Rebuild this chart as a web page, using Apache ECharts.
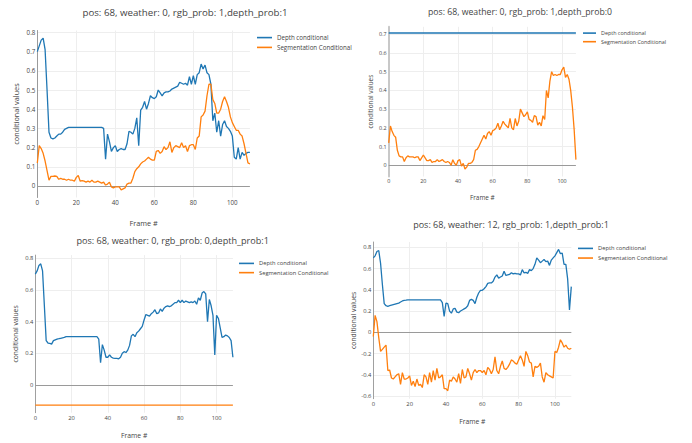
<!DOCTYPE html>
<html><head><meta charset="utf-8">
<script src="https://cdn.jsdelivr.net/npm/echarts@6/dist/echarts.min.js"></script>
<style>html,body{margin:0;padding:0;background:#fff}#c{width:692px;height:443px}</style>
</head><body><div id="c"></div>
<script>
// ---------- data ----------
const seriesNames = ['Depth conditional', 'Segmentation Conditional'];
const titles = [
  'pos: 68, weather: 0, rgb_prob: 1,depth_prob:1',
  'pos: 68, weather: 0, rgb_prob: 1,depth_prob:0',
  'pos: 68, weather: 0, rgb_prob: 0,depth_prob:1',
  'pos: 68, weather: 12, rgb_prob: 1,depth_prob:1'
];
const xTitle = 'Frame #';
const yTitle = 'conditional values';

// panel 1: weather 0, rgb 1, depth 1
const depth1 = [0.70,0.73,0.76,0.77,0.71,0.50,0.28,0.25,0.245,0.25,
  0.26,0.27,0.27,0.28,0.295,0.30,0.305,0.305,0.305,0.305,
  0.305,0.305,0.305,0.305,0.305,0.305,0.305,0.305,0.305,0.305,
  0.305,0.305,0.305,0.305,0.30,0.14,0.27,0.23,0.18,0.20,
  0.21,0.18,0.19,0.195,0.19,0.19,0.22,0.285,0.28,0.27,
  0.30,0.355,0.21,0.395,0.41,0.44,0.40,0.43,0.47,0.46,
  0.455,0.465,0.50,0.485,0.47,0.485,0.49,0.49,0.495,0.505,
  0.51,0.515,0.52,0.54,0.535,0.53,0.535,0.525,0.57,0.53,
  0.575,0.53,0.58,0.59,0.635,0.61,0.63,0.59,0.58,0.53,
  0.34,0.38,0.28,0.34,0.26,0.32,0.34,0.31,0.30,0.285,
  0.26,0.15,0.14,0.20,0.14,0.175,0.16,0.17,0.175,0.175];
const seg1 = [0.12,0.21,0.195,0.17,0.13,0.08,0.03,0.05,0.05,0.052,
  0.05,0.035,0.04,0.035,0.035,0.03,0.035,0.03,0.03,0.025,
  0.045,0.055,0.025,0.028,0.025,0.02,0.025,0.02,0.03,0.02,
  0.02,0.025,0.02,0.015,0.02,0.005,0.01,0.02,-0.005,-0.01,
  -0.005,-0.005,-0.005,-0.02,-0.015,-0.01,0.01,0.015,0.015,0.04,
  0.075,0.09,0.10,0.115,0.125,0.13,0.14,0.15,0.14,0.135,
  0.135,0.18,0.185,0.17,0.18,0.205,0.19,0.20,0.23,0.175,
  0.20,0.21,0.205,0.20,0.225,0.20,0.21,0.18,0.21,0.215,
  0.215,0.19,0.25,0.26,0.36,0.37,0.39,0.47,0.53,0.53,
  0.45,0.43,0.38,0.38,0.40,0.44,0.465,0.44,0.41,0.36,
  0.33,0.31,0.29,0.29,0.27,0.26,0.22,0.17,0.12,0.115];

// panel 2: weather 0, rgb 1, depth 0
const depth2 = [0.707,0.707,0.707,0.707,0.707,0.707,0.707,0.707,0.707,0.707,
  0.707,0.707,0.707,0.707,0.707,0.707,0.707,0.707,0.707,0.707,
  0.707,0.707,0.707,0.707,0.707,0.707,0.707,0.707,0.707,0.707,
  0.707,0.707,0.707,0.707,0.707,0.707,0.707,0.707,0.707,0.707,
  0.707,0.707,0.707,0.707,0.707,0.707,0.707,0.707,0.707,0.707,
  0.707,0.707,0.707,0.707,0.707,0.707,0.707,0.707,0.707,0.707,
  0.707,0.707,0.707,0.707,0.707,0.707,0.707,0.707,0.707,0.707,
  0.707,0.707,0.707,0.707,0.707,0.707,0.707,0.707,0.707,0.707,
  0.707,0.707,0.707,0.707,0.707,0.707,0.707,0.707,0.707,0.707,
  0.707,0.707,0.707,0.707,0.707,0.707,0.707,0.707,0.707,0.707,
  0.707,0.707,0.707,0.707,0.707,0.707,0.707,0.707,0.707];
const seg2 = [0.12,0.21,0.18,0.16,0.15,0.08,0.05,0.045,0.045,0.02,
  0.04,0.05,0.045,0.045,0.045,0.04,0.045,0.045,0.025,0.04,
  0.055,0.04,0.025,0.025,0.03,0.015,0.02,0.02,0.03,0.02,
  0.025,0.03,0.02,0.015,0.02,0.015,0.0,0.03,0.01,0.0,
  0.025,0.03,-0.005,0.01,-0.02,-0.01,0.01,0.01,0.015,0.03,
  0.08,0.085,0.10,0.12,0.14,0.16,0.14,0.17,0.18,0.16,
  0.185,0.19,0.20,0.225,0.19,0.21,0.235,0.22,0.21,0.20,
  0.25,0.20,0.19,0.25,0.21,0.235,0.30,0.28,0.26,0.27,
  0.285,0.245,0.24,0.23,0.265,0.26,0.215,0.23,0.21,0.265,
  0.245,0.40,0.36,0.45,0.50,0.48,0.485,0.48,0.485,0.485,
  0.51,0.525,0.47,0.485,0.46,0.40,0.31,0.19,0.03];

// panel 3: weather 0, rgb 0, depth 1
const depth3 = [0.70,0.72,0.755,0.765,0.72,0.50,0.28,0.265,0.262,0.258,
  0.28,0.285,0.29,0.292,0.295,0.298,0.30,0.305,0.305,0.305,
  0.305,0.305,0.305,0.305,0.305,0.305,0.305,0.305,0.305,0.305,
  0.305,0.305,0.305,0.305,0.305,0.29,0.14,0.255,0.22,0.175,
  0.175,0.19,0.175,0.17,0.168,0.168,0.165,0.175,0.20,0.21,
  0.205,0.22,0.25,0.31,0.32,0.305,0.33,0.34,0.355,0.37,
  0.41,0.445,0.44,0.435,0.45,0.46,0.475,0.45,0.455,0.48,
  0.465,0.485,0.495,0.50,0.495,0.50,0.51,0.52,0.52,0.535,
  0.52,0.535,0.52,0.53,0.525,0.52,0.525,0.52,0.53,0.51,
  0.55,0.535,0.58,0.59,0.575,0.40,0.54,0.50,0.44,0.19,
  0.44,0.42,0.36,0.30,0.305,0.315,0.31,0.30,0.28,0.175];
const seg3 = [-0.127,-0.127,-0.127,-0.127,-0.127,-0.127,-0.127,-0.127,-0.127,-0.127,
  -0.127,-0.127,-0.127,-0.127,-0.127,-0.127,-0.127,-0.127,-0.127,-0.127,
  -0.127,-0.127,-0.127,-0.127,-0.127,-0.127,-0.127,-0.127,-0.127,-0.127,
  -0.127,-0.127,-0.127,-0.127,-0.127,-0.127,-0.127,-0.127,-0.127,-0.127,
  -0.127,-0.127,-0.127,-0.127,-0.127,-0.127,-0.127,-0.127,-0.127,-0.127,
  -0.127,-0.127,-0.127,-0.127,-0.127,-0.127,-0.127,-0.127,-0.127,-0.127,
  -0.127,-0.127,-0.127,-0.127,-0.127,-0.127,-0.127,-0.127,-0.127,-0.127,
  -0.127,-0.127,-0.127,-0.127,-0.127,-0.127,-0.127,-0.127,-0.127,-0.127,
  -0.127,-0.127,-0.127,-0.127,-0.127,-0.127,-0.127,-0.127,-0.127,-0.127,
  -0.127,-0.127,-0.127,-0.127,-0.127,-0.127,-0.127,-0.127,-0.127,-0.127,
  -0.127,-0.127,-0.127,-0.127,-0.127,-0.127,-0.127,-0.127,-0.127,-0.127];

// panel 4: weather 12, rgb 1, depth 1
const depth4 = [0.70,0.72,0.76,0.77,0.65,0.45,0.27,0.25,0.245,0.25,
  0.255,0.26,0.265,0.27,0.275,0.285,0.295,0.30,0.302,0.305,
  0.305,0.305,0.305,0.305,0.305,0.305,0.305,0.305,0.305,0.305,
  0.305,0.305,0.305,0.305,0.305,0.305,0.305,0.305,0.28,0.15,
  0.275,0.27,0.20,0.18,0.22,0.225,0.19,0.185,0.20,0.21,
  0.22,0.23,0.25,0.30,0.31,0.30,0.27,0.33,0.37,0.395,
  0.395,0.41,0.43,0.46,0.465,0.465,0.48,0.52,0.54,0.51,
  0.52,0.53,0.575,0.535,0.54,0.545,0.56,0.55,0.555,0.55,
  0.55,0.54,0.59,0.56,0.565,0.555,0.59,0.58,0.60,0.64,
  0.70,0.68,0.655,0.67,0.685,0.665,0.67,0.63,0.68,0.70,
  0.72,0.75,0.78,0.74,0.745,0.64,0.64,0.50,0.21,0.43];
const seg4 = [-0.04,0.16,0.10,-0.05,-0.18,-0.16,-0.14,-0.12,-0.36,-0.355,
  -0.43,-0.44,-0.42,-0.40,-0.39,-0.49,-0.38,-0.44,-0.44,-0.43,
  -0.41,-0.50,-0.46,-0.51,-0.44,-0.50,-0.49,-0.52,-0.40,-0.42,
  -0.49,-0.38,-0.47,-0.36,-0.45,-0.34,-0.43,-0.42,-0.40,-0.53,
  -0.53,-0.55,-0.45,-0.46,-0.42,-0.44,-0.47,-0.39,-0.48,-0.35,
  -0.43,-0.42,-0.34,-0.39,-0.45,-0.38,-0.35,-0.38,-0.36,-0.36,
  -0.38,-0.36,-0.40,-0.33,-0.35,-0.39,-0.35,-0.23,-0.36,-0.39,
  -0.32,-0.27,-0.34,-0.35,-0.33,-0.30,-0.26,-0.27,-0.29,-0.30,
  -0.26,-0.22,-0.26,-0.32,-0.18,-0.22,-0.28,-0.29,-0.42,-0.32,
  -0.33,-0.32,-0.29,-0.42,-0.47,-0.38,-0.40,-0.41,-0.42,-0.43,
  -0.18,-0.19,-0.14,-0.07,-0.10,-0.14,-0.12,-0.15,-0.16,-0.15];

const depthData = [depth1, depth2, depth3, depth4];
const segData = [seg1, seg2, seg3, seg4];
const xTickStep = 20;
const yTickSteps = [0.1, 0.1, 0.2, 0.2];

// ---------- layout (styling only) ----------
const panels = [
  {grid:{left:37.3, top:30.5, width:212.6, height:167}, xMax:109, yMin:-0.06, yMax:0.81, fs:6.2, ts:9.7, tx:185, ty:12.7,
   an:7.3, xGap:21.5, yGap:18, leg:{left:257, top:34.6, w:15, gap:3.8}, zc:'#9a9a9a', zw:1},
  {grid:{left:388.7, top:26.8, width:187.2, height:149.7}, xMax:108, yMin:-0.06, yMax:0.74, fs:5.4, ts:8.7, tx:520, ty:11.7,
   an:6.4, xGap:17.5, yGap:15.5, leg:{left:583, top:30.6, w:13, gap:3.6}, zc:'#c8c8c8', zw:2},
  {grid:{left:35.3, top:255.1, width:197.6, height:157.6}, xMax:109, yMin:-0.175, yMax:0.82, fs:5.75, ts:9.1, tx:172.7, ty:240,
   an:6.8, xGap:19.5, yGap:16.2, leg:{left:239, top:260.4, w:15, gap:3.25}, zc:'#a0a0a0', zw:1},
  {grid:{left:373.3, top:242, width:198, height:156.7}, xMax:109, yMin:-0.625, yMax:0.85, fs:5.75, ts:9.0, tx:511, ty:224,
   an:6.8, xGap:19, yGap:16.6, leg:{left:578, top:245.4, w:15, gap:3.65}, zc:'#a0a0a0', zw:1}
];

const FONT = '"Open Sans", "DejaVu Sans", sans-serif';
const TXT = '#444';
const colors = ['#1f77b4', '#ff7f0e'];

const option = {
  animation: false,
  backgroundColor: '#fff',
  color: colors,
  grid: [], xAxis: [], yAxis: [], series: [], legend: [], graphic: []
};

panels.forEach((p, i) => {
  option.grid.push(Object.assign({containLabel:false}, p.grid));
  option.xAxis.push({
    type:'value', gridIndex:i, min:0, max:p.xMax, interval:xTickStep,
    name:xTitle, nameLocation:'middle', nameGap:p.xGap,
    nameTextStyle:{fontFamily:FONT, fontSize:p.an, color:TXT},
    axisLine:{show:false}, axisTick:{show:false},
    axisLabel:{fontFamily:FONT, fontSize:p.fs, color:TXT, margin:2, showMaxLabel:false},
    splitLine:{show:true, showMinLine:false, showMaxLine:false, lineStyle:{color:'#eeeeee', width:1}}
  });
  option.yAxis.push({
    type:'value', gridIndex:i, min:p.yMin, max:p.yMax,
    minInterval:yTickSteps[i], maxInterval:yTickSteps[i], splitNumber:10,
    name:yTitle, nameLocation:'middle', nameGap:p.yGap, nameRotate:90,
    nameTextStyle:{fontFamily:FONT, fontSize:p.an, color:TXT},
    axisLine:{show:true, onZero:true, lineStyle:{color:p.zc, width:p.zw}},
    axisTick:{show:false},
    axisLabel:{fontFamily:FONT, fontSize:p.fs, color:TXT, margin:2, showMinLabel:false, showMaxLabel:false},
    splitLine:{show:true, showMinLine:false, showMaxLine:false, lineStyle:{color:'#eeeeee', width:1}}
  });
  option.series.push({
    name:seriesNames[0], type:'line', xAxisIndex:i, yAxisIndex:i,
    data:depthData[i].map((v, k) => [k, v]),
    symbol:'none', lineStyle:{width:1.3, color:colors[0]}, itemStyle:{color:colors[0]}, z:3,
    markLine:{silent:true, symbol:'none', label:{show:false}, animation:false,
      lineStyle:{color:'#9a9a9a', width:1, type:'solid'}, data:[{yAxis:0}], z:1}
  });
  option.series.push({
    name:seriesNames[1], type:'line', xAxisIndex:i, yAxisIndex:i,
    data:segData[i].map((v, k) => [k, v]),
    symbol:'none', lineStyle:{width:1.3, color:colors[1]}, itemStyle:{color:colors[1]}, z:3
  });
  option.legend.push({
    data:seriesNames.map(n => ({name:n, icon:'rect'})),
    orient:'vertical', left:p.leg.left, top:p.leg.top, padding:0,
    itemWidth:p.leg.w, itemHeight:1.6, itemGap:p.leg.gap, selectedMode:false,
    textStyle:{fontFamily:FONT, fontSize:p.fs, color:TXT}
  });
  option.graphic.push({
    type:'text', x:p.tx, y:p.ty, silent:true,
    style:{text:titles[i], fill:TXT, font:p.ts + 'px ' + FONT, textAlign:'center', textVerticalAlign:'middle'}
  });
});

const chart = echarts.init(document.getElementById('c'), null, {renderer:'svg'});
chart.setOption(option);
</script>
</body></html>
